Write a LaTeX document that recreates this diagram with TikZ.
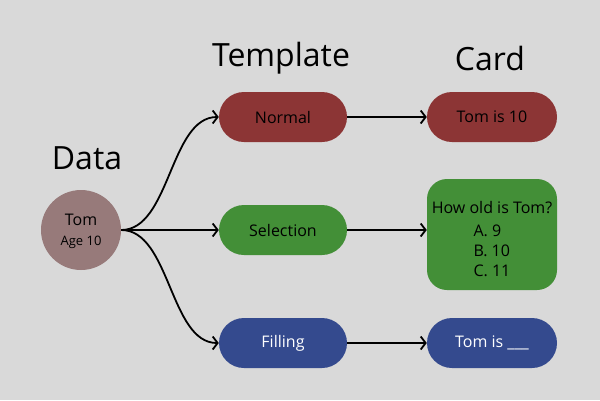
\documentclass[tikz,border=0pt]{standalone}
\usepackage{fontspec}
\setmainfont{Open Sans}
\usetikzlibrary{arrows.meta}
\definecolor{bg}{HTML}{D9D9D9}
\definecolor{redc}{HTML}{8C3535}
\definecolor{greenc}{HTML}{438F37}
\definecolor{bluec}{HTML}{344A8E}
\definecolor{datac}{HTML}{977A7A}
\tikzset{
  pill/.style={draw=none, minimum width=128pt, minimum height=50pt, rounded corners=25pt, inner sep=0pt, font=\fontsize{16}{19}\selectfont},
  title/.style={font=\fontsize{32}{37}\selectfont, text=black},
  body/.style={font=\fontsize{16}{19}\selectfont},
  conn/.style={line width=1.8pt, -{Straight Barb[length=5pt,width=13pt,line width=1.8pt]}},
}
\begin{document}
\begin{tikzpicture}[x=1pt,y=-1pt]
\fill[bg] (0,0) rectangle (600,400);
\useasboundingbox (0,0) rectangle (600,400);
\node[title] (tdata) at (87,158) {Data};
\node[title] (ttemp) at (281,58) {Template};
\node[title] (tcard) at (490,58) {Card};
\node[circle, fill=datac, minimum size=80pt, inner sep=0pt] (data) at (81,230) {};
\node[body] (dtom) at (81,220) {Tom};
\node[font=\fontsize{13}{15}\selectfont] (dage) at (81,242) {Age 10};
\node[pill, fill=redc] (normal) at (283,117) {Normal};
\node[pill, fill=greenc] (sel) at (283,230) {Selection};
\node[pill, fill=bluec, text=white] (fill) at (283,343) {Filling};
\node[pill, fill=redc, minimum width=130pt] (cnormal) at (492,117) {Tom is 10};
\node[fill=greenc, minimum width=130pt, minimum height=111pt, rounded corners=20pt, inner sep=0pt] (csel) at (492,234.5) {};
\node[body] (q) at (492,208) {How old is Tom?};
\node[font=\fontsize{16}{20}\selectfont, align=left, anchor=north west] (opts) at (470,221) {A. 9\\B. 10\\C. 11};
\node[pill, fill=bluec, text=white, minimum width=130pt] (cfill) at (492,343) {Tom is \_\_\_};
\draw[conn] (data.east) .. controls +(49,0) and +(-49,0) .. (normal.west);
\draw[conn] (data.east) -- (sel.west);
\draw[conn] (data.east) .. controls +(49,0) and +(-49,0) .. (fill.west);
\draw[conn] (normal.east) -- (cnormal.west);
\draw[conn] (sel.east) -- (sel.east -| csel.west);
\draw[conn] (fill.east) -- (cfill.west);
\end{tikzpicture}
\end{document}
